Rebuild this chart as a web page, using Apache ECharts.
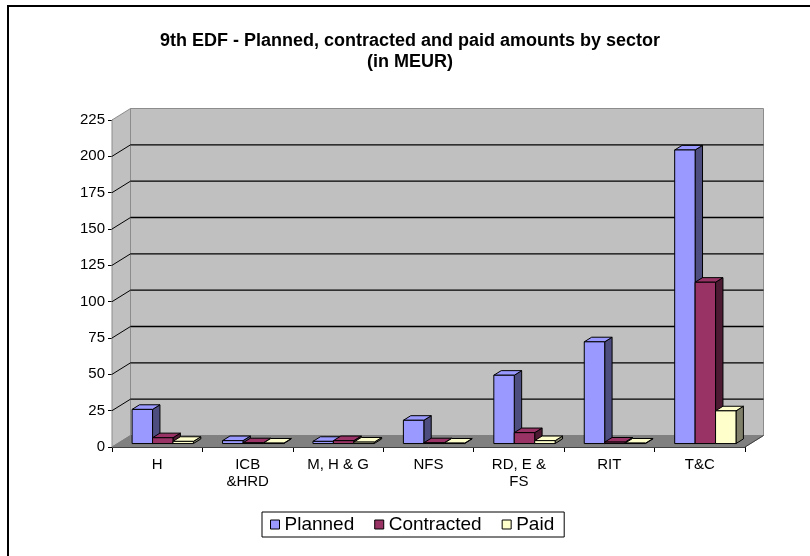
<!DOCTYPE html>
<html>
<head>
<meta charset="utf-8">
<script src="https://cdn.jsdelivr.net/npm/echarts@6/dist/echarts.min.js"></script>
<style>
  html, body { margin: 0; padding: 0; background: #ffffff; }
  #chart { width: 810px; height: 556px; }
</style>
</head>
<body>
<div id="chart"></div>
<script>
// Sectors and amounts (MEUR)
const sectors = ['H', 'ICB\n&HRD', 'M, H & G', 'NFS', 'RD, E &\nFS', 'RIT', 'T&C'];
const planned = [23.5, 2, 1.5, 16, 47, 70, 202];
const contracted = [4, 0.5, 2, 0.5, 7.5, 1, 111];
const paid = [1.5, 0.3, 1, 0.3, 2, 0.3, 22.5];
const seriesNames = ['Planned', 'Contracted', 'Paid'];

// Value axis ticks
const yMin = 0;
const yMax = 225;
const yStep = 25;

// Face colours: front/top and shaded side
const frontColors = ['#9999FF', '#993366', '#FFFFCC'];
const sideColors = ['#4D4D80', '#4D1A33', '#80806A'];

// Oblique projection of the depth axis (pixels)
const DX = 18.5, DY = -11.5;
const BAR_FRONT = 0.3, BAR_BACK = 0.7;   // bar depth range, fraction of floor depth
const BAR_FRAC = 0.226;                   // bar width, fraction of category band

const FONT = '"Liberation Sans", Arial, sans-serif';

function gridValues() {
  const v = [];
  for (let t = yMin + yStep; t < yMax; t += yStep) v.push(t);
  return v;
}

// Back wall, side wall, floor and the gridlines on the walls
function renderWalls(params, api) {
  const cs = params.coordSys;
  const x0 = cs.x, x1 = cs.x + cs.width;
  const yb = api.coord([0, yMin])[1];
  const yt = api.coord([0, yMax])[1];
  const children = [];
  children.push({
    type: 'polygon',
    shape: { points: [[x0 + DX, yt + DY], [x1 + DX, yt + DY], [x1 + DX, yb + DY], [x0 + DX, yb + DY]] },
    style: { fill: '#C0C0C0', stroke: '#8C8C8C', lineWidth: 1 }
  });
  children.push({
    type: 'polygon',
    shape: { points: [[x0, yt], [x0 + DX, yt + DY], [x0 + DX, yb + DY], [x0, yb]] },
    style: { fill: '#C0C0C0', stroke: '#8C8C8C', lineWidth: 1 }
  });
  gridValues().forEach(function (v) {
    const y = api.coord([0, v])[1];
    children.push({
      type: 'line',
      shape: { x1: x0 + DX, y1: y + DY, x2: x1 + DX, y2: y + DY },
      style: { stroke: '#000000', lineWidth: 1.4 }
    });
    children.push({
      type: 'line',
      shape: { x1: x0, y1: y, x2: x0 + DX, y2: y + DY },
      style: { stroke: '#000000', lineWidth: 1 }
    });
  });
  children.push({
    type: 'polygon',
    shape: { points: [[x0, yb], [x1, yb], [x1 + DX, yb + DY], [x0 + DX, yb + DY]] },
    style: { fill: '#808080', stroke: '#808080', lineWidth: 1 }
  });
  children.push({
    type: 'line',
    shape: { x1: x1, y1: yb, x2: x1 + DX, y2: yb + DY },
    style: { stroke: '#404040', lineWidth: 1 }
  });
  return { type: 'group', children: children };
}

// One 3D column: front face, top face, shaded right side
function makeBarRenderer(k) {
  return function (params, api) {
    const i = api.value(0);
    const v = api.value(1);
    const band = api.size([1, 0])[0];
    const bw = band * BAR_FRAC;
    const cx = api.coord([i, 0])[0];
    const xl = cx - 1.5 * bw + k * bw + BAR_FRONT * DX;
    const xr = xl + bw;
    const yb = api.coord([i, yMin])[1] + BAR_FRONT * DY;
    const yt = api.coord([i, v])[1] + BAR_FRONT * DY;
    const ox = (BAR_BACK - BAR_FRONT) * DX;
    const oy = (BAR_BACK - BAR_FRONT) * DY;
    const line = { stroke: '#000000', lineWidth: 1, lineJoin: 'round' };
    return {
      type: 'group',
      children: [
        {
          type: 'polygon',
          shape: { points: [[xr, yt], [xr + ox, yt + oy], [xr + ox, yb + oy], [xr, yb]] },
          style: Object.assign({ fill: sideColors[k] }, line)
        },
        {
          type: 'polygon',
          shape: { points: [[xl, yt], [xr, yt], [xr + ox, yt + oy], [xl + ox, yt + oy]] },
          style: Object.assign({ fill: frontColors[k] }, line)
        },
        {
          type: 'rect',
          shape: { x: xl, y: yt, width: bw, height: Math.max(yb - yt, 0) },
          style: Object.assign({ fill: frontColors[k] }, line)
        }
      ]
    };
  };
}

const valueSets = [planned, contracted, paid];

const barSeries = seriesNames.map(function (name, k) {
  return {
    name: name,
    type: 'custom',
    renderItem: makeBarRenderer(k),
    itemStyle: { color: frontColors[k] },
    encode: { x: 0, y: 1 },
    data: valueSets[k].map(function (v, i) { return [i, v]; }),
    z: 3 + k,
    silent: true
  };
});

const chart = echarts.init(document.getElementById('chart'), null, { renderer: 'canvas' });

chart.setOption({
  animation: false,
  backgroundColor: '#ffffff',
  title: {
    text: '9th EDF - Planned, contracted and paid amounts by sector\n(in MEUR)',
    left: 405,
    top: 26,
    textAlign: 'center',
    textStyle: {
      fontFamily: FONT,
      fontSize: 18,
      fontWeight: 'bold',
      color: '#000000',
      lineHeight: 21
    }
  },
  legend: {
    data: seriesNames,
    left: 262,
    top: 512,
    icon: 'rect',
    itemWidth: 9,
    itemHeight: 9,
    itemGap: 20,
    padding: [3, 10, 3, 8],
    borderColor: '#000000',
    borderWidth: 1,
    itemStyle: { borderColor: '#000000', borderWidth: 1 },
    textStyle: { fontFamily: FONT, fontSize: 19, color: '#000000', padding: [0, 0, 0, 0] },
    selectedMode: false
  },
  grid: { left: 112, right: 65, top: 120, bottom: 109, containLabel: false },
  xAxis: {
    type: 'category',
    data: sectors,
    boundaryGap: true,
    axisLine: { show: true, lineStyle: { color: '#000000', width: 1 } },
    axisTick: { show: true, alignWithLabel: false, length: 5, lineStyle: { color: '#000000' } },
    axisLabel: {
      color: '#000000',
      fontFamily: FONT,
      fontSize: 15,
      lineHeight: 17,
      margin: 9,
      interval: 0
    },
    splitLine: { show: false }
  },
  yAxis: {
    type: 'value',
    min: yMin,
    max: yMax,
    interval: yStep,
    axisLine: { show: true, lineStyle: { color: '#000000', width: 1 } },
    axisTick: { show: true, length: 4, lineStyle: { color: '#000000' } },
    axisLabel: { color: '#000000', fontFamily: FONT, fontSize: 15, margin: 7 },
    splitLine: { show: false }
  },
  graphic: [
    {
      type: 'rect',
      shape: { x: 8, y: 6, width: 820, height: 570 },
      style: { fill: null, stroke: '#000000', lineWidth: 2 },
      silent: true,
      z: 100
    }
  ],
  series: [
    {
      name: 'walls',
      type: 'custom',
      renderItem: renderWalls,
      data: [[0, 0]],
      encode: { x: 0, y: 1 },
      z: 1,
      silent: true
    }
  ].concat(barSeries)
});
</script>
</body>
</html>
